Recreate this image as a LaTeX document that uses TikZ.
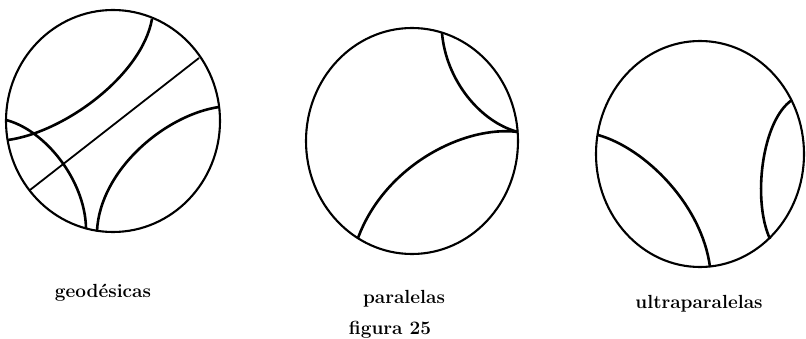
\documentclass[tikz,border=0pt]{standalone}
\usetikzlibrary{calc}

\begin{document}
\begin{tikzpicture}[
    x=1pt, y=-1pt, % pixel-like units, y down
    disk/.style={line width=2.1pt},
    geod/.style={line width=2.6pt},
    thinline/.style={line width=1.8pt},
    lbl/.style={font=\bfseries\fontsize{19}{22}\selectfont, anchor=base}
]
\useasboundingbox (0,0) rectangle (806,339);

% ========== left: geodesicas ==========
\begin{scope}[shift={(113,121)}]
    \draw[disk] (0,0) ellipse[x radius=107, y radius=111];
    \draw[geod] (39,-102) .. controls (29,-46) and (-48,11) .. (-105,19);
    \draw[geod] (-107,-1) .. controls (-68,9) and (-28,59) .. (-27,107);
    \draw[thinline] (86,-63) -- (-83,69); % recta por el centro
    \draw[geod] (106,-14) .. controls (52,-6) and (-13,49) .. (-16,110);
\end{scope}

% ========== middle: paralelas ==========
\begin{scope}[shift={(412,141)}]
    \draw[disk] (0,0) ellipse[x radius=106, y radius=113];
    \coordinate (omega) at (106,-9); % punto ideal comun
    \draw[geod] (30,-108) .. controls (34,-61) and (68,-19) .. (omega);
    \draw[geod] (omega) .. controls (53,-16) and (-27,24) .. (-54,97);
\end{scope}

% ========== right: ultraparalelas ==========
\begin{scope}[shift={(700,154)}]
    \draw[disk] (0,0) ellipse[x radius=104, y radius=113];
    \draw[geod] (-102,-19) .. controls (-55,-6) and (2,51) .. (10,113);
    \draw[geod] (92,-54) .. controls (62,-34) and (52,46) .. (70,85);
\end{scope}

% labels
\node[lbl] (lblgeo) at (103,297) {geodésicas};
\node[lbl] (lblpar) at (404,303) {paralelas};
\node[lbl] (lblultra) at (699,308) {ultraparalelas};
\node[lbl] (caption) at (390,334) {figura 25};

\end{tikzpicture}
\end{document}
